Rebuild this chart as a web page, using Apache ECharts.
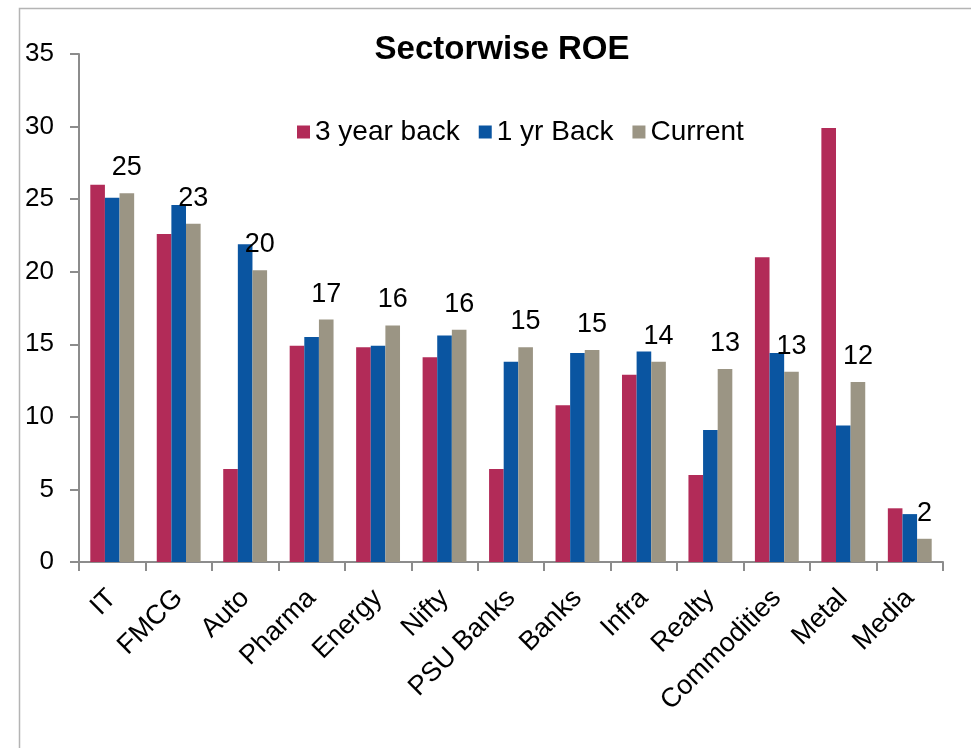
<!DOCTYPE html>
<html>
<head>
<meta charset="utf-8">
<title>Sectorwise ROE</title>
<script src="https://cdn.jsdelivr.net/npm/echarts@6/dist/echarts.min.js"></script>
<style>
    html, body {
        margin: 0;
        padding: 0;
        background: #ffffff;
    }
    #myChart {
        width: 971px;
        height: 748px;
    }
</style>
</head>
<body>
<div id="myChart"></div>
<script>
// 数据
const categories = ['IT', 'FMCG', 'Auto', 'Pharma', 'Energy', 'Nifty', 'PSU Banks', 'Banks', 'Infra', 'Realty', 'Commodities', 'Metal', 'Media'];
const threeYearBack = [26.0, 22.6, 6.4, 14.9, 14.8, 14.1, 6.4, 10.8, 12.9, 6.0, 21.0, 29.9, 3.7];
const oneYrBack = [25.1, 24.6, 21.9, 15.5, 14.9, 15.6, 13.8, 14.4, 14.5, 9.1, 14.4, 9.4, 3.3];
const current = [25.4, 23.3, 20.1, 16.7, 16.3, 16.0, 14.8, 14.6, 13.8, 13.3, 13.1, 12.4, 1.6];
const seriesNames = ['3 year back', '1 yr Back', 'Current'];
const yTicks = { min: 0, max: 35, interval: 5 };

const font = "'Liberation Sans', Arial, sans-serif";
const axisColor = '#8c8c8c';

let myChart = echarts.init(document.getElementById('myChart'));
let option = {
    animation: false,
    textStyle: {
        fontFamily: font
    },
    title: {
        text: 'Sectorwise ROE',
        left: 497,
        top: 28,
        textAlign: 'center',
        textStyle: {
            color: '#000',
            fontSize: 33,
            fontWeight: 'bold',
            fontFamily: font
        }
    },
    legend: {
        data: seriesNames,
        left: 292,
        top: 113,
        itemWidth: 13,
        itemHeight: 13,
        itemGap: 19,
        icon: 'rect',
        textStyle: {
            color: '#000',
            fontSize: 28,
            fontFamily: font
        }
    },
    // 外框
    graphic: [
        {
            type: 'rect',
            shape: { x: 19.5, y: 8.5, width: 1000, height: 800 },
            style: { fill: 'none', stroke: '#b4b4b4', lineWidth: 1.5 },
            silent: true
        }
    ],
    grid: {
        left: 79,
        right: 28,
        top: 54,
        bottom: 186
    },
    xAxis: {
        type: 'category',
        data: categories,
        axisLine: {
            lineStyle: { color: axisColor, width: 2 }
        },
        axisTick: {
            show: true,
            length: 9,
            lineStyle: { color: axisColor, width: 2 }
        },
        axisLabel: {
            interval: 0,
            rotate: 45,
            margin: 32,
            color: '#000',
            fontSize: 27,
            fontFamily: font
        }
    },
    yAxis: {
        type: 'value',
        min: yTicks.min,
        max: yTicks.max,
        interval: yTicks.interval,
        axisLine: {
            show: true,
            lineStyle: { color: axisColor, width: 2 }
        },
        axisTick: {
            show: true,
            length: 9,
            lineStyle: { color: axisColor, width: 2 }
        },
        splitLine: { show: false },
        axisLabel: {
            margin: 25,
            color: '#000',
            fontSize: 26,
            fontFamily: font
        }
    },
    series: [
        {
            name: seriesNames[0],
            type: 'bar',
            barGap: '0%',
            barCategoryGap: '34%',
            itemStyle: { color: '#b22b58' },
            data: threeYearBack
        },
        {
            name: seriesNames[1],
            type: 'bar',
            barGap: '0%',
            barCategoryGap: '34%',
            itemStyle: { color: '#0a55a1' },
            data: oneYrBack
        },
        {
            name: seriesNames[2],
            type: 'bar',
            barGap: '0%',
            barCategoryGap: '34%',
            itemStyle: { color: '#9b9584' },
            label: {
                show: true,
                position: 'top',
                distance: 12,
                color: '#000',
                fontSize: 27,
                fontFamily: font,
                formatter: (p) => Math.round(p.value)
            },
            data: current
        }
    ]
};
myChart.setOption(option);
window.onresize = myChart.resize;
</script>
</body>
</html>
